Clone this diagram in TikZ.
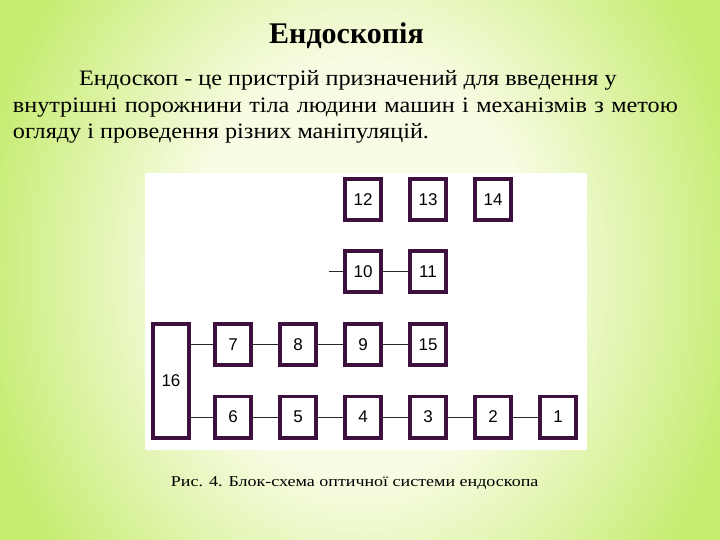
\documentclass[tikz,border=0pt]{standalone}
\usepackage{fontspec}
\setmainfont{Liberation Serif}
\newfontfamily\numfont{Liberation Sans}
\newfontfamily\bodyfont[FakeStretch=1.1]{Liberation Serif}
\newfontfamily\capfont[FakeStretch=1.2]{Liberation Serif}
\usepackage{tikz}

\definecolor{bgin}{RGB}{248,252,228}
\definecolor{bgout}{RGB}{198,236,112}
\definecolor{blkline}{RGB}{62,16,62}
\definecolor{connline}{RGB}{40,40,40}
\pgfdeclareradialshading{slidebg}{\pgfpoint{0bp}{0bp}}{color(0bp)=(bgin); color(12bp)=(bgin); color(27bp)=(bgout); color(50bp)=(bgout)}

\begin{document}
\begin{tikzpicture}[x=1pt,y=-1pt,node distance=65pt,
    blk/.style={draw=blkline, line width=3.8pt, fill=white, inner sep=0pt,
                minimum width=36.2pt, minimum height=41.2pt,
                font=\numfont\fontsize{17}{20}\selectfont},
    conn/.style={draw=connline, line width=1pt}]

\useasboundingbox (0,0) rectangle (720,540);
\begin{scope}
\clip (0,0) rectangle (720,540);
\shade[shading=slidebg] (0,-160) rectangle (720,700);
\end{scope}

% title and text
\node[anchor=base, inner sep=0pt, font=\bfseries\fontsize{30}{36}\selectfont] (ttl) at (346.5,44) {Ендоскопія};
\node[anchor=base west, inner sep=0pt, font=\bodyfont\fontsize{22}{26}\selectfont] (ln1) at (79,86)
    {Ендоскоп - це пристрій призначений для введення у};
\node[anchor=base west, inner sep=0pt, font=\bodyfont\fontsize{22}{26}\selectfont] (ln2) at (12.7,113)
    {\makebox[665pt][s]{внутрішні порожнини тіла людини машин і механізмів з метою}};
\node[anchor=base west, inner sep=0pt, font=\bodyfont\fontsize{22}{26}\selectfont] (ln3) at (12.7,139)
    {огляду і проведення різних маніпуляцій.};

% panel
\fill[white] (145,173) rectangle (587,450);

\node[blk] (n4) at (363,417) {4};
\node[blk] (n3) [right of=n4] {3};
\node[blk] (n2) [right of=n3] {2};
\node[blk] (n1) [right of=n2] {1};
\node[blk] (n5) [left  of=n4] {5};
\node[blk] (n6) [left  of=n5] {6};

\node[blk] (n9)  [above of=n4, node distance=72.5pt] {9};
\node[blk] (n15) [right of=n9] {15};
\node[blk] (n8)  [left  of=n9] {8};
\node[blk] (n7)  [left  of=n8] {7};

\node[blk] (n10) [above of=n9, node distance=73pt] {10};
\node[blk] (n11) [right of=n10] {11};

\node[blk] (n12) [above of=n10, node distance=72pt] {12};
\node[blk] (n13) [right of=n12] {13};
\node[blk] (n14) [right of=n13] {14};

\node[blk, minimum height=114.2pt] (n16) at (171,381) {16};

\coordinate (s10) at ([xshift=-13.75pt]n10.west);

\path[conn]
	(n16.east |- n7) edge (n7)
	(n7) edge (n8)
	(n8) edge (n9)
	(n9) edge (n15);

\path[conn]
	(n16.east |- n6) edge (n6)
	(n6) edge (n5)
	(n5) edge (n4)
	(n4) edge (n3)
	(n3) edge (n2)
	(n2) edge (n1);

\path[conn]
	(s10) edge (n10)
	(n10) edge (n11);

% caption
\node[anchor=base west, inner sep=0pt, font=\capfont\fontsize{15}{18}\selectfont] (cap) at (170.7,486.7)
    {Рис. 4. Блок-схема оптичної системи ендоскопа};

\end{tikzpicture}
\end{document}
